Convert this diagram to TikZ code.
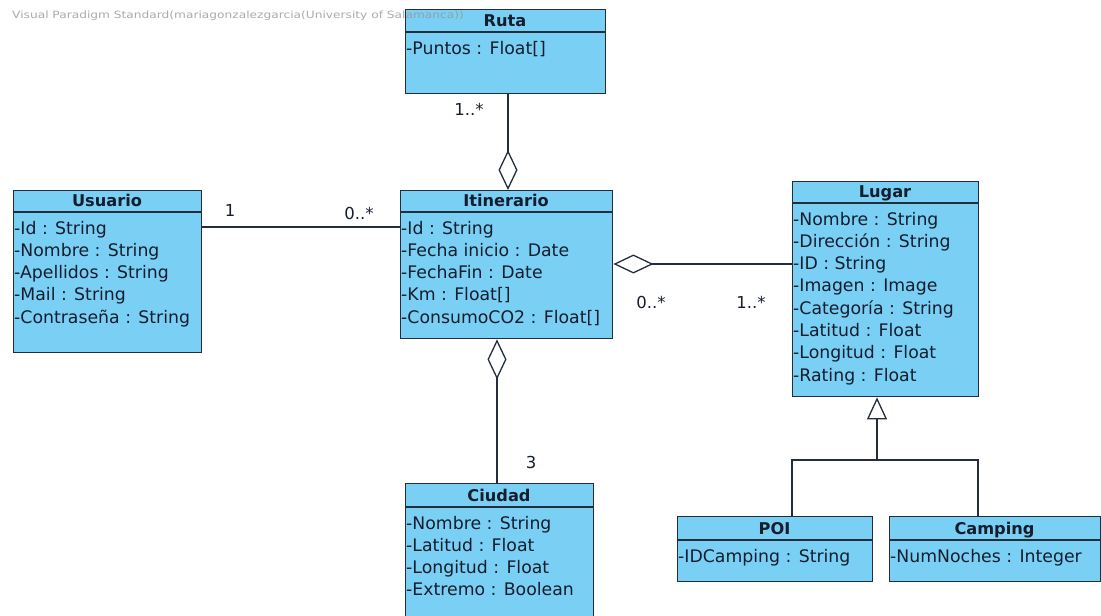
\documentclass[tikz,border=0pt]{standalone}
\usepackage{fontspec}
\setmainfont{DejaVu Sans}
\usetikzlibrary{arrows.meta}
\definecolor{classfill}{RGB}{122,207,245}
\definecolor{classline}{RGB}{35,45,60}
\definecolor{classtext}{RGB}{20,30,45}
\definecolor{markgray}{RGB}{150,150,150}
\tikzset{
  classbox/.style={draw=classline, fill=classfill, line width=1.4pt, anchor=north west, inner sep=0pt},
  sepline/.style={draw=classline, line width=1.2pt},
  ctitle/.style={font=\fontsize{16.2}{18}\selectfont\bfseries, text=classtext, inner sep=0pt, anchor=base},
  attr/.style={font=\fontsize{17.3}{20}\selectfont, text=classtext, anchor=base west, inner sep=0pt},
  mult/.style={font=\fontsize{16.5}{18}\selectfont, text=classtext, inner sep=0pt},
  conn/.style={draw=classline, line width=1.3pt},
  aggr/.style={conn, -{Diamond[open, length=40pt, width=19pt, line width=1.3pt]}},
  gen/.style={conn, -{Triangle[open, length=22pt, width=20pt, line width=1.3pt]}},
}
% class box: name, left, top, right, bottom, separator y, title, attributes
\newcommand{\umlclass}[8]{%
  \node[classbox, minimum width={(#4-#2)*1pt}, minimum height={(#5-#3)*1pt}] (#1) at (#2,#3) {};
  \draw[sepline] (#2,#6) -- (#4,#6);
  \node[ctitle] (#1-title) at ({(#2+#4)/2},{#6-5.5}) {#7};
  \foreach \t [count=\i from 0] in {#8}
    \node[attr] (#1-a\i) at ({#2+1},{#6+22+22.3*\i}) {\t};
}
\begin{document}
\begin{tikzpicture}[x=1pt, y=-1pt]
  \useasboundingbox (0,0) rectangle (1101,616);
  \clip (0,0) rectangle (1101,616);
  \fill[white] (0,0) rectangle (1101,616);

  \umlclass{ruta}{405}{9}{605}{93}{32}{Ruta}{-Puntos : Float[]}
  \umlclass{usuario}{13}{190}{201}{352}{212}{Usuario}%
    {-Id : String, -Nombre : String, -Apellidos : String, -Mail : String, -Contraseña : String}
  \umlclass{itinerario}{400}{190}{612}{338}{212}{Itinerario}%
    {-Id : String, -Fecha inicio : Date, -FechaFin : Date, -Km : Float[], -ConsumoCO2 : Float[]}
  \umlclass{lugar}{792}{181}{978}{396}{203}{Lugar}%
    {-Nombre : String, -Dirección : String, -ID : String, -Imagen : Image, -Categoría : String, -Latitud : Float, -Longitud : Float, -Rating : Float}
  \umlclass{ciudad}{405}{483}{593}{630}{507}{Ciudad}%
    {-Nombre : String, -Latitud : Float, -Longitud : Float, -Extremo : Boolean}
  \umlclass{poi}{677}{516}{872}{581}{540}{POI}{-IDCamping : String}
  \umlclass{camping}{889}{516}{1100}{581}{540}{Camping}{-NumNoches : Integer}

  % connector guide positions
  \coordinate (xr) at (508,0);
  \coordinate (yu) at (0,227);
  \coordinate (yl) at (0,264);
  \coordinate (xc) at (497,0);
  \coordinate (xg) at (877,0);
  \coordinate (yg) at (0,460);
  \coordinate (xp) at (792,0);
  \coordinate (xk) at (978,0);

  % associations and aggregations
  \draw[aggr] (ruta.south -| xr) -- (itinerario.north -| xr);
  \draw[conn] (usuario.east |- yu) -- (itinerario.west |- yu);
  \draw[aggr] (lugar.west |- yl) -- (itinerario.east |- yl);
  \draw[aggr] (ciudad.north -| xc) -- (itinerario.south -| xc);

  % generalization of Lugar
  \draw[conn] (poi.north -| xp) -- (xp |- yg) -- (xk |- yg) -- (camping.north -| xk);
  \draw[gen] (xg |- yg) -- (lugar.south -| xg);

  % multiplicities
  \node[mult] (m-ruta) at (469,109) {1..*};
  \node[mult] (m-usu) at (230,210) {1};
  \node[mult] (m-itu) at (359,213) {0..*};
  \node[mult] (m-itl) at (651,302) {0..*};
  \node[mult] (m-lug) at (751,302) {1..*};
  \node[mult] (m-ciu) at (531,462) {3};

  % edition watermark
  \node[anchor=west, inner sep=0pt, text=markgray, opacity=0.8,
        font=\fontsize{10}{12}\selectfont] (mark) at (12,16)
    {\scalebox{1.22}[1]{Visual Paradigm Standard(mariagonzalezgarcia(University of Salamanca))}};
\end{tikzpicture}
\end{document}
